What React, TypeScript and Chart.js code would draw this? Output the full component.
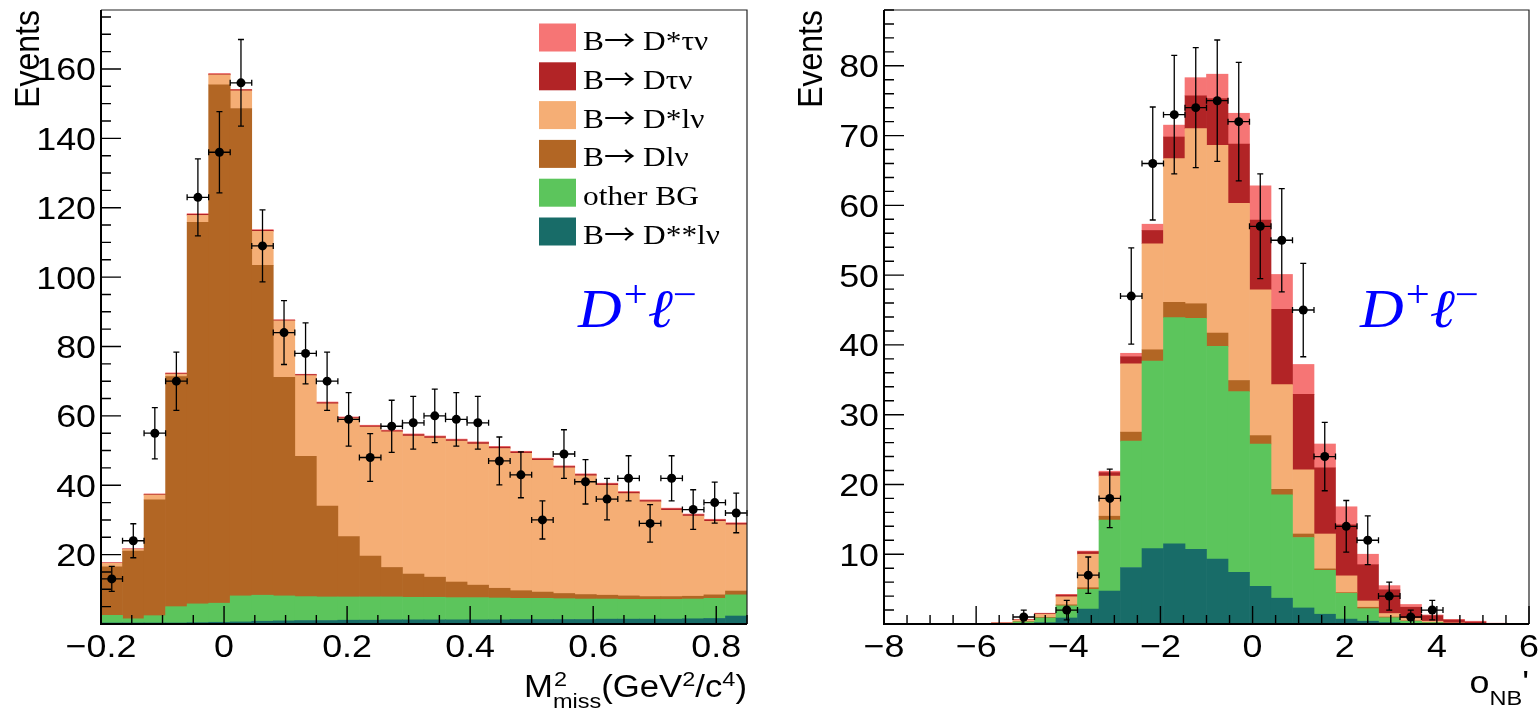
import React, { useEffect, useRef } from "react";
import { Chart, registerables } from "chart.js";

Chart.register(...registerables);

// ---------------- data ----------------
const LEGEND_LABELS = [
  "B\u2192 D*\u03c4\u03bd",
  "B\u2192 D\u03c4\u03bd",
  "B\u2192 D*l\u03bd",
  "B\u2192 Dl\u03bd",
  "other BG",
  "B\u2192 D**l\u03bd",
];
const COLORS = ["#f67575", "#b22426", "#f5ae75", "#b26624", "#5cc55c", "#186c68"];

// Left panel: M^2_miss, 30 bins from -0.2 to 0.85
const L_BINS = { lo: -0.2, hi: 0.85, n: 30 };
const L_DSTAR_TAU = [0.1, 0.1, 0.1, 0.2, 0.2, 0.2, 0.1, 0.2, 0.1, 0.1, 0.2, 0.2, 0.2, 0.2, 0.2, 0.2, 0.2, 0.2, 0.2, 0.2, 0.2, 0.2, 0.2, 0.2, 0.2, 0.2, 0.2, 0.2, 0.2, 0.2];
const L_D_TAU = [0.1, 0.1, 0.2, 0.2, 0.3, 0.2, 0.3, 0.3, 0.2, 0.3, 0.3, 0.3, 0.3, 0.3, 0.4, 0.4, 0.4, 0.4, 0.4, 0.4, 0.4, 0.4, 0.4, 0.4, 0.4, 0.4, 0.4, 0.4, 0.4, 0.4];
const L_DSTAR_L = [1.0, 0.5, 1.4, 0.7, 2.0, 2.9, 5.1, 9.8, 16.3, 23.3, 29.5, 34.0, 37.2, 39.1, 39.8, 40.1, 40.6, 40.7, 40.3, 39.6, 38.0, 36.2, 34.2, 31.7, 29.5, 27.3, 24.9, 23.1, 21.2, 19.1];
const L_D_L = [14.0, 19.5, 33.4, 66.3, 110.0, 149.4, 140.5, 95.1, 63.0, 40.4, 26.2, 17.4, 11.8, 8.5, 6.7, 5.8, 4.5, 3.6, 2.8, 2.2, 1.8, 1.5, 1.3, 1.1, 1.0, 0.8, 0.8, 0.8, 1.0, 1.1];
const L_OTHER = [2.2, 1.2, 2.1, 4.7, 5.4, 5.5, 7.5, 7.5, 7.2, 6.9, 6.8, 6.7, 6.7, 6.6, 6.5, 6.5, 6.4, 6.4, 6.3, 6.1, 6.1, 6.0, 5.9, 5.8, 5.7, 5.7, 5.7, 5.7, 5.8, 6.1];
const L_DSS_L = [0.3, 0.3, 0.3, 0.3, 0.4, 0.5, 0.6, 0.8, 0.9, 1.0, 1.0, 1.1, 1.1, 1.2, 1.2, 1.2, 1.2, 1.2, 1.2, 1.3, 1.3, 1.3, 1.3, 1.4, 1.4, 1.4, 1.4, 1.5, 1.6, 2.3];
const L_DATA = [13, 24, 55, 70, 123, 136, 156, 109, 84, 78, 70, 59, 48, 57, 58, 60, 59, 58, 47, 43, 30, 49, 41, 36, 42, 29, 42, 33, 35, 32];
const L_ERR = [3.6, 4.9, 7.4, 8.4, 11.1, 11.7, 12.5, 10.4, 9.2, 8.8, 8.4, 7.7, 6.9, 7.5, 7.6, 7.7, 7.7, 7.6, 6.9, 6.6, 5.5, 7.0, 6.4, 6.0, 6.5, 5.4, 6.5, 5.7, 5.9, 5.7];
const L_X_TICKS = [-0.2, 0, 0.2, 0.4, 0.6, 0.8];
const L_X_LABELS = ["\u22120.2", "0", "0.2", "0.4", "0.6", "0.8"];
const L_Y_TICKS = [20, 40, 60, 80, 100, 120, 140, 160];

// Right panel: o_NB', 30 bins from -8 to 6
const R_BINS = { lo: -8, hi: 6, n: 30 };
const R_DSTAR_TAU = [0, 0, 0, 0, 0, 0.05, 0.05, 0.05, 0.1, 0.1, 0.2, 0.5, 0.9, 1.7, 2.6, 3.5, 4.4, 4.9, 5.0, 4.3, 3.4, 2.6, 1.5, 0.6, 0.4, 0.1, 0.1, 0.11, 0.04, 0.02];
const R_D_TAU = [0, 0, 0, 0, 0, 0, 0.05, 0.1, 0.25, 0.35, 0.5, 1.0, 1.9, 3.1, 4.7, 6.7, 8.5, 10.0, 10.8, 10.8, 9.5, 7.3, 5.2, 3.4, 1.6, 0.8, 0.42, 0.22, 0.05, 0.02];
const R_DSTAR_L = [0, 0, 0, 0, 0, 0.05, 0.2, 0.45, 1.15, 4.8, 5.75, 9.8, 15.2, 20.6, 25.1, 26.9, 25.4, 20.9, 15.0, 9.2, 5.0, 2.4, 0.9, 0.5, 0.35, 0.18, 0.05, 0.02, 0.01, 0.01];
const R_D_L = [0, 0, 0, 0, 0, 0, 0.05, 0.09, 0.15, 0.24, 0.55, 1.3, 1.6, 2.2, 2.1, 1.9, 1.6, 1.2, 0.8, 0.5, 0.2, 0.1, 0.2, 0.1, 0.05, 0.02, 0, 0, 0, 0];
const R_OTHER = [0, 0, 0, 0, 0, 0.05, 0.2, 0.66, 1.74, 2.82, 10.18, 18.1, 26.9, 32.4, 33.1, 30.5, 25.9, 20.4, 14.8, 10.1, 6.3, 3.7, 1.8, 0.7, 0.3, 0.15, 0.08, 0.04, 0.02, 0];
const R_DSS_L = [0, 0, 0, 0, 0, 0.05, 0.1, 0.2, 0.86, 2.14, 4.72, 8.1, 10.8, 11.5, 10.7, 9.3, 7.4, 5.4, 3.7, 2.3, 1.4, 0.7, 0.4, 0.2, 0.1, 0.05, 0.02, 0.01, 0, 0];
const R_DATA = [0, 0, 0, 0, 0, 0, 1, 0, 2, 7, 18, 47, 66, 73, 74, 75, 72, 57, 55, 45, 24, 14, 12, 4, 1, 2, 0, 0, 0, 0];
const R_ERR = [0, 0, 0, 0, 0, 0, 1.0, 0, 1.4, 2.6, 4.2, 6.9, 8.1, 8.5, 8.6, 8.7, 8.5, 7.5, 7.4, 6.7, 4.9, 3.7, 3.5, 2.0, 1.0, 1.4, 0, 0, 0, 0];
const R_X_TICKS = [-8, -6, -4, -2, 0, 2, 4, 6];
const R_X_LABELS = ["\u22128", "\u22126", "\u22124", "\u22122", "0", "2", "4", "6"];
const R_Y_TICKS = [10, 20, 30, 40, 50, 60, 70, 80];

// ---------------- helpers ----------------
const SX = 1.12; // horizontal text stretch of the reference
const SANS = '"Liberation Sans", Arial, Helvetica, sans-serif';
const SERIF = '"Liberation Serif", "Times New Roman", serif';
const ARROW_FONT = '28px "Noto Sans CJK SC", "DejaVu Serif", serif';

function tw(ctx: CanvasRenderingContext2D, s: string, font: string) {
  ctx.font = font;
  return ctx.measureText(s).width * SX;
}
function txt(
  ctx: CanvasRenderingContext2D,
  s: string,
  x: number,
  y: number,
  font: string,
  align: "left" | "right" | "center" = "left",
  color = "#000"
) {
  ctx.save();
  ctx.font = font;
  ctx.fillStyle = color;
  ctx.textAlign = "left";
  ctx.textBaseline = "alphabetic";
  const w = ctx.measureText(s).width * SX;
  const x0 = align === "left" ? x : align === "right" ? x - w : x - w / 2;
  ctx.translate(x0, y);
  ctx.scale(SX, 1);
  ctx.fillText(s, 0, 0);
  ctx.restore();
  return w;
}

function centers(b: { lo: number; hi: number; n: number }) {
  const w = (b.hi - b.lo) / b.n;
  return Array.from({ length: b.n }, (_, i) => b.lo + (i + 0.5) * w);
}

type Panel = {
  bins: { lo: number; hi: number; n: number };
  series: number[][]; // legend order
  data: number[];
  err: number[];
  yMax: number;
  xMinor: number;
  xMajor: number;
  yMinor: number;
  yMajor: number;
  xTicks: number[];
  xLabels: string[];
  yTicks: number[];
  padLeft: number;
  padRight: number;
  eventsX: number;
  legend: boolean;
  labelX: number;
  title: (ctx: CanvasRenderingContext2D, right: number) => void;
};

function drawLeftTitle(ctx: CanvasRenderingContext2D, right: number) {
  const big = `31px ${SANS}`;
  const small = `21px ${SANS}`;
  const base = 697;
  const wM = tw(ctx, "M", big);
  const wStack = Math.max(tw(ctx, "2", small), tw(ctx, "miss", small));
  const w1 = tw(ctx, "(GeV", big);
  const w2 = tw(ctx, "2", small);
  const w3 = tw(ctx, "/c", big);
  const w4 = tw(ctx, "4", small);
  const w5 = tw(ctx, ")", big);
  let x = right - (wM + wStack + w1 + w2 + w3 + w4 + w5);
  txt(ctx, "M", x, base, big);
  x += wM;
  txt(ctx, "2", x + 1, base - 11, small);
  txt(ctx, "miss", x, base + 11, small);
  x += wStack;
  txt(ctx, "(GeV", x, base, big);
  x += w1;
  txt(ctx, "2", x, base - 11, small);
  x += w2;
  txt(ctx, "/c", x, base, big);
  x += w3;
  txt(ctx, "4", x, base - 11, small);
  x += w4;
  txt(ctx, ")", x, base, big);
}

function drawRightTitle(ctx: CanvasRenderingContext2D, right: number) {
  const big = `32px ${SANS}`;
  const small = `21px ${SANS}`;
  const base = 693;
  const w0 = tw(ctx, "o", big);
  const w1 = tw(ctx, "NB", small);
  const w2 = tw(ctx, "'", big);
  let x = right - (w0 + w1 + w2);
  txt(ctx, "o", x, base, big);
  x += w0;
  txt(ctx, "NB", x, base + 12, small);
  x += w1;
  txt(ctx, "'", x, base, big);
}

function drawDL(ctx: CanvasRenderingContext2D, x0: number) {
  const big = `italic 54px ${SERIF}`;
  const sup = `38px ${SERIF}`;
  const base = 327;
  const blue = "#0000ff";
  let x = x0;
  x += txt(ctx, "D", x, base, big, "left", blue);
  x += txt(ctx, "+", x + 2, base - 20, sup, "left", blue) + 2;
  x += txt(ctx, "\u2113", x, base, big, "left", blue);
  txt(ctx, "\u2212", x, base - 20, sup, "left", blue);
}

function drawLegendText(ctx: CanvasRenderingContext2D, label: string, x: number, base: number) {
  const font = `28px ${SERIF}`;
  const k = label.indexOf("\u2192");
  if (k < 0) {
    txt(ctx, label, x, base, font);
    return;
  }
  x += txt(ctx, label.slice(0, k), x, base, font);
  x += txt(ctx, "\u2192", x, base + 1, ARROW_FONT);
  txt(ctx, label.slice(k + 1), x, base, font);
}

function decorPlugin(p: Panel) {
  const binW = (p.bins.hi - p.bins.lo) / p.bins.n;
  return {
    id: "rootDecor",
    beforeDatasetDraw(chart: any, args: any) {
      const ds = chart.data.datasets[args.index];
      if (ds.type !== "scatter") return;
      const ctx: CanvasRenderingContext2D = chart.ctx;
      const xs = chart.scales.x;
      const ys = chart.scales.y;
      ctx.save();
      ctx.strokeStyle = "#000";
      ctx.lineWidth = 1.3;
      const c = 3;
      for (const pt of ds.data) {
        const px = xs.getPixelForValue(pt.x);
        const py = ys.getPixelForValue(pt.y);
        const y1 = ys.getPixelForValue(pt.y + pt.e);
        const y2 = ys.getPixelForValue(pt.y - pt.e);
        const x1 = xs.getPixelForValue(pt.x - binW / 2);
        const x2 = xs.getPixelForValue(pt.x + binW / 2);
        ctx.beginPath();
        ctx.moveTo(px, y1);
        ctx.lineTo(px, y2);
        ctx.moveTo(px - c, y1);
        ctx.lineTo(px + c, y1);
        ctx.moveTo(px - c, y2);
        ctx.lineTo(px + c, y2);
        ctx.moveTo(x1, py);
        ctx.lineTo(x2, py);
        ctx.moveTo(x1, py - c);
        ctx.lineTo(x1, py + c);
        ctx.moveTo(x2, py - c);
        ctx.lineTo(x2, py + c);
        ctx.stroke();
      }
      ctx.restore();
    },
    afterDraw(chart: any) {
      const ctx: CanvasRenderingContext2D = chart.ctx;
      const a = chart.chartArea;
      const xs = chart.scales.x;
      const ys = chart.scales.y;
      ctx.save();
      // frame
      ctx.strokeStyle = "#222";
      ctx.lineWidth = 1.2;
      ctx.beginPath();
      ctx.moveTo(a.left, a.top);
      ctx.lineTo(a.right, a.top);
      ctx.lineTo(a.right, a.bottom);
      ctx.stroke();
      ctx.strokeStyle = "#000";
      ctx.lineWidth = 2;
      ctx.beginPath();
      ctx.moveTo(a.left, a.top);
      ctx.lineTo(a.left, a.bottom);
      ctx.lineTo(a.right, a.bottom);
      ctx.stroke();
      // ticks
      ctx.lineWidth = 1.4;
      ctx.beginPath();
      const nx = Math.round((p.bins.hi - p.bins.lo) / p.xMinor);
      for (let i = 0; i <= nx; i++) {
        const v = p.bins.lo + i * p.xMinor;
        const r = v / p.xMajor;
        const major = Math.abs(r - Math.round(r)) < 1e-6;
        const px = xs.getPixelForValue(v);
        ctx.moveTo(px, a.bottom);
        ctx.lineTo(px, a.bottom - (major ? 18 : 9));
      }
      const ny = Math.floor(p.yMax / p.yMinor + 1e-9);
      for (let i = 1; i <= ny; i++) {
        const v = i * p.yMinor;
        const major = Math.abs(v / p.yMajor - Math.round(v / p.yMajor)) < 1e-6;
        const py = ys.getPixelForValue(v);
        ctx.moveTo(a.left, py);
        ctx.lineTo(a.left + (major ? 20 : 10), py);
      }
      ctx.stroke();
      // tick labels
      const lf = `32px ${SANS}`;
      p.xTicks.forEach((v, i) => {
        txt(ctx, p.xLabels[i], xs.getPixelForValue(v), 657, lf, "center");
      });
      p.yTicks.forEach((v) => {
        txt(ctx, String(v), a.left - 5, ys.getPixelForValue(v) + 11.5, lf, "right");
      });
      // y title
      ctx.save();
      ctx.translate(p.eventsX, a.top);
      ctx.scale(SX, 1);
      ctx.rotate(-Math.PI / 2);
      ctx.font = `32px ${SANS}`;
      ctx.fillStyle = "#000";
      ctx.textAlign = "right";
      ctx.textBaseline = "alphabetic";
      ctx.fillText("Events", 0, 0);
      ctx.restore();
      // x title
      p.title(ctx, a.right);
      // legend
      if (p.legend) {
        const rowC = [37.5, 76.3, 115.1, 153.9, 192.7, 231.5];
        LEGEND_LABELS.forEach((lab, i) => {
          ctx.fillStyle = COLORS[i];
          ctx.fillRect(539, rowC[i] - 14, 37, 28);
          drawLegendText(ctx, lab, 583, rowC[i] + 12.5);
        });
      }
      drawDL(ctx, p.labelX);
      ctx.restore();
    },
  };
}

function buildConfig(p: Panel) {
  const c = centers(p.bins);
  const stackOrder = [5, 4, 3, 2, 1, 0];
  const datasets: any[] = stackOrder.map((idx) => ({
    type: "bar",
    label: LEGEND_LABELS[idx],
    data: p.series[idx].map((v, i) => ({ x: c[i], y: v })),
    backgroundColor: COLORS[idx],
    borderWidth: 0,
    barPercentage: 1,
    categoryPercentage: 1,
    stack: "mc",
    order: 1,
  }));
  const pts: any[] = [];
  p.data.forEach((v, i) => {
    if (v > 0) pts.push({ x: c[i], y: v, e: p.err[i] });
  });
  datasets.push({
    type: "scatter",
    label: "data",
    data: pts,
    pointRadius: 4.5,
    pointBackgroundColor: "#000",
    pointBorderWidth: 0,
    pointBorderColor: "#000",
    showLine: false,
    stack: "data",
    order: 0,
    clip: false,
  });
  return {
    type: "bar",
    data: { datasets },
    options: {
      responsive: false,
      animation: false,
      devicePixelRatio: 1,
      events: [],
      layout: { padding: { left: p.padLeft, right: p.padRight, top: 10, bottom: 86 } },
      plugins: { legend: { display: false }, tooltip: { enabled: false } },
      scales: {
        x: {
          type: "linear",
          min: p.bins.lo,
          max: p.bins.hi,
          offset: false,
          stacked: true,
          display: false,
          grid: { offset: false },
          ticks: { stepSize: p.xMajor },
        },
        y: { type: "linear", min: 0, max: p.yMax, stacked: true, display: false },
      },
    },
    plugins: [decorPlugin(p)],
  } as any;
}

const LEFT: Panel = {
  bins: L_BINS,
  series: [L_DSTAR_TAU, L_D_TAU, L_DSTAR_L, L_D_L, L_OTHER, L_DSS_L],
  data: L_DATA,
  err: L_ERR,
  yMax: 177,
  xMinor: 0.05,
  xMajor: 0.2,
  yMinor: 5,
  yMajor: 20,
  xTicks: L_X_TICKS,
  xLabels: L_X_LABELS,
  yTicks: L_Y_TICKS,
  padLeft: 101,
  padRight: 22,
  eventsX: 39,
  legend: true,
  labelX: 578,
  title: drawLeftTitle,
};

const RIGHT: Panel = {
  bins: R_BINS,
  series: [R_DSTAR_TAU, R_D_TAU, R_DSTAR_L, R_D_L, R_OTHER, R_DSS_L],
  data: R_DATA,
  err: R_ERR,
  yMax: 88,
  xMinor: 0.5,
  xMajor: 2,
  yMinor: 2,
  yMajor: 10,
  xTicks: R_X_TICKS,
  xLabels: R_X_LABELS,
  yTicks: R_Y_TICKS,
  padLeft: 115,
  padRight: 9,
  eventsX: 53,
  legend: false,
  labelX: 1360 - 769,
  title: drawRightTitle,
};

function HistPanel({ panel, left }: { panel: Panel; left: number }) {
  const ref = useRef<HTMLCanvasElement>(null);
  useEffect(() => {
    const chart = new Chart(ref.current as HTMLCanvasElement, buildConfig(panel));
    return () => chart.destroy();
  }, [panel]);
  return (
    <canvas
      ref={ref}
      width={769}
      height={710}
      style={{ position: "absolute", left, top: 0, width: 769, height: 710 }}
    />
  );
}

export default function App() {
  return (
    <div
      style={{
        position: "fixed",
        left: 0,
        top: 0,
        width: 1538,
        height: 710,
        background: "#fff",
        overflow: "hidden",
      }}
    >
      <HistPanel panel={LEFT} left={0} />
      <HistPanel panel={RIGHT} left={769} />
    </div>
  );
}
